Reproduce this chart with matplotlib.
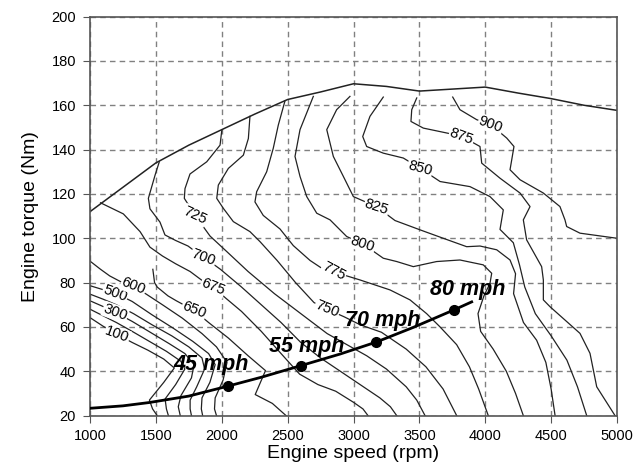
import matplotlib
matplotlib.use("Agg")
import matplotlib.pyplot as plt

plt.rcParams['font.family'] = ['Liberation Sans', 'DejaVu Sans']

# full-load (max torque) curve
wot_rpm = [1000, 1250, 1500, 1750, 2000, 2250, 2500, 2750, 3000, 3250, 3500, 3750, 4000, 4250, 4500, 4750, 5000]
wot_torque = [112, 123, 134, 142, 149, 156, 162.6, 166, 169.7, 168.5, 166.4, 167.3, 168.2, 165.5, 163, 160, 157.7]

# road-load line and cruise points
road_rpm = [1000, 1250, 1450, 1750, 2047, 2300, 2604, 2900, 3174, 3450, 3763, 3897]
road_torque = [23.3, 24.4, 25.9, 28.8, 33.3, 37.3, 42.6, 47.8, 53.2, 59.7, 67.7, 71.3]
cruise_names = ['45 mph', '55 mph', '70 mph', '80 mph']
cruise_rpm = [2047, 2604, 3174, 3763]
cruise_torque = [33.3, 42.6, 53.2, 67.7]

# iso-lines
levels = [100, 200, 300, 400, 500, 600, 650, 675, 700, 725, 750, 775, 800, 825, 850, 875, 900]
iso_rpm = [
    [1000, 1100, 1206, 1320, 1440, 1560, 1640, 1560, 1451, 1475, 1510],
    [1000, 1100, 1200, 1320, 1450, 1580, 1690, 1720, 1650, 1570, 1580, 1595],
    [1000, 1100, 1192, 1320, 1460, 1600, 1720, 1790, 1770, 1690, 1670, 1685],
    [1000, 1100, 1200, 1330, 1470, 1620, 1750, 1850, 1870, 1810, 1760, 1760, 1770],
    [1000, 1100, 1192, 1320, 1470, 1630, 1780, 1900, 1950, 1910, 1850, 1845, 1855],
    [1000, 1080, 1150, 1230, 1329, 1427, 1550, 1700, 1850, 1960, 2040, 2010, 1950, 1945, 1960],
    [1477, 1490, 1510, 1592, 1655, 1789, 1900, 2050, 2200, 2332, 2254, 2384, 2488],
    [1080, 1253, 1380, 1455, 1550, 1650, 1760, 1850, 1934, 2030, 2150, 2300, 2450, 2591, 2730, 2865, 3000, 3072, 3110],
    [1526, 1494, 1443, 1455, 1531, 1569, 1650, 1744, 1800, 1862, 1990, 2150, 2300, 2450, 2600, 2750, 2900, 3050, 3200, 3280, 3328],
    [2000, 1987, 1886, 1759, 1721, 1716, 1797, 1911, 2038, 2200, 2400, 2600, 2800, 2950, 3100, 3250, 3400, 3480, 3543],
    [2214, 2202, 2164, 2050, 1974, 1962, 2012, 2088, 2214, 2290, 2420, 2560, 2700, 2799, 2928, 3050, 3212, 3400, 3550, 3680, 3783],
    [2480, 2429, 2391, 2341, 2265, 2252, 2315, 2442, 2543, 2670, 2771, 2850, 2950, 3049, 3277, 3429, 3555, 3657, 3783, 3880, 3950, 4023],
    [2695, 2594, 2556, 2594, 2645, 2721, 2822, 2948, 3070, 3226, 3328, 3454, 3631, 3808, 3985, 4049, 4036, 3990, 3945, 3965, 4060, 4160, 4230, 4289],
    [2973, 2872, 2797, 2847, 2923, 2999, 3176, 3315, 3505, 3681, 3859, 3960, 4087, 4188, 4230, 4215, 4290, 4390, 4460, 4500, 4530],
    [3226, 3125, 3070, 3100, 3226, 3378, 3505, 3657, 3884, 4036, 4137, 4112, 4213, 4260, 4300, 4380, 4500, 4620, 4700, 4770],
    [3480, 3442, 3436, 3530, 3707, 3821, 3960, 3973, 4112, 4264, 4340, 4289, 4314, 4428, 4441, 4441, 4492, 4719, 4795, 4846, 4985],
    [3753, 3808, 3935, 4041, 4163, 4218, 4201, 4188, 4264, 4441, 4567, 4605, 4618, 4719, 5000],
]
iso_torque = [
    [64.2, 60.3, 56.6, 53, 49.5, 45.5, 41.5, 35, 27, 23, 20],
    [68, 65, 62, 58, 53.5, 49, 44.5, 41, 34, 27.5, 23, 20],
    [71.8, 69.2, 66.6, 62.5, 57.5, 52.5, 48, 43, 37, 29, 24, 20],
    [74.8, 72.5, 70, 66, 61, 56, 51, 46, 41, 33, 27, 23, 20],
    [78.6, 76.8, 75.3, 71.5, 65.5, 59.5, 53.5, 48, 43, 35, 28, 23, 20],
    [89.7, 86, 83, 80.5, 78.3, 74.8, 70, 64, 57, 51, 44, 36, 28, 23, 20],
    [86, 80, 78, 74, 71.8, 67.5, 62, 55, 47, 40.3, 29.5, 25.5, 20],
    [116, 111, 103, 96, 92, 88.5, 85, 81, 78, 73, 67, 58, 48, 38.7, 34, 31, 26, 23, 20],
    [134.5, 128.5, 118, 113.3, 107.3, 101.5, 99, 96.5, 94, 91.5, 86, 78, 70, 62, 53, 46, 40, 34, 28, 24, 20],
    [148.5, 142, 134.5, 129, 122.4, 118, 110.4, 101, 94, 85, 75, 66, 57, 52, 47, 41, 33, 27, 20],
    [155, 145, 137.5, 131.5, 124, 118, 113.5, 107.5, 103, 98.5, 90, 80, 71, 68, 64.6, 61, 57.6, 50, 42, 32, 20],
    [162, 151, 140.6, 130, 121, 116.4, 110.3, 104.2, 96.7, 90, 86, 85.1, 83, 81.2, 76.7, 72.2, 66, 60, 52, 42, 32, 20],
    [164, 149, 136.9, 127.9, 118.8, 111.3, 108.3, 100.8, 97.5, 91, 89.5, 87.2, 89.5, 90.2, 88, 84.2, 79.7, 74, 66, 58, 50, 40, 30, 20],
    [164, 158, 149, 136.9, 127.9, 118.8, 114.2, 108, 103.8, 100, 96.2, 96.5, 94.8, 90.2, 84, 75, 62, 54, 44, 32, 20],
    [163.7, 155, 145.9, 141.4, 138.4, 136.2, 131.6, 125.6, 123.3, 118.8, 112.8, 104, 98, 88, 78, 66, 56, 45, 33, 20],
    [163.3, 158, 152.7, 149.7, 147.5, 146, 141.4, 133.9, 127.1, 120.4, 114.3, 108.3, 99.3, 87.2, 81.2, 72.2, 69.1, 57.1, 48.1, 33, 20],
    [163.7, 158, 153.5, 151.3, 145.2, 141.4, 135.4, 130.9, 126.4, 120.4, 114.3, 108.3, 105.3, 102.3, 100],
]

# where the level numbers sit on the lines
label_levels = [100, 300, 500, 600, 650, 675, 700, 725, 750, 775, 800, 825, 850, 875, 900]
label_rpm = [1206, 1192, 1192, 1329, 1789, 1934, 1862, 1797, 2799, 2850, 3070, 3176, 3505, 3821, 4041]
label_torque = [56.6, 66.6, 75.3, 78.3, 67.5, 78, 91.5, 110.4, 68, 85.1, 97.5, 114.2, 131.6, 146, 151.3]
label_angle = [-20, -20, -20, -22, -22, -22, -20, -25, -22, -28, -18, -18, -15, -20, -20]

fig = plt.figure(figsize=(6.44, 4.68), dpi=100)
ax = fig.add_axes([90/644., 1-415.6/468., 527/644., 399/468.])

for r, t in zip(iso_rpm, iso_torque):
    ax.plot(r, t, color='#222222', lw=0.9, zorder=2)

for lev, r, t, a in zip(label_levels, label_rpm, label_torque, label_angle):
    ax.text(r, t, str(lev), fontsize=10.5, rotation=a, ha='center', va='center', zorder=3,
            rotation_mode='anchor',
            bbox=dict(boxstyle='square,pad=0.05', fc='white', ec='none'))

ax.plot(wot_rpm, wot_torque, color='#222222', lw=1.1, zorder=2)
ax.plot(road_rpm, road_torque, color='black', lw=2.0, zorder=4)
ax.plot(cruise_rpm, cruise_torque, 'o', color='black', ms=7, zorder=5)

offsets = [(-17, 22), (5, 19), (6, 22), (14, 20)]
for name, r, t, off in zip(cruise_names, cruise_rpm, cruise_torque, offsets):
    ax.annotate(name, xy=(r, t), xytext=off, textcoords='offset pixels', fontsize=15.5,
                fontweight='bold', fontstyle='italic', ha='center', va='center', zorder=6)

ax.set_xlim(1000, 5000)
ax.set_ylim(20, 200)
ax.set_xticks(range(1000, 5001, 500))
ax.set_yticks(range(20, 201, 20))
ax.grid(True, color='#808080', linestyle=(0, (4, 3)), lw=1.0, zorder=1)
ax.set_axisbelow(True)
for s in ax.spines.values():
    s.set_color('#555555')
    s.set_linewidth(1.2)
ax.tick_params(direction='out', length=5, pad=5, color='#555555', labelsize=10.5)
ax.set_xlabel('Engine speed (rpm)', fontsize=14, labelpad=1)
ax.set_ylabel('Engine torque (Nm)', fontsize=14, labelpad=9)

plt.savefig('out.png', dpi=100)
